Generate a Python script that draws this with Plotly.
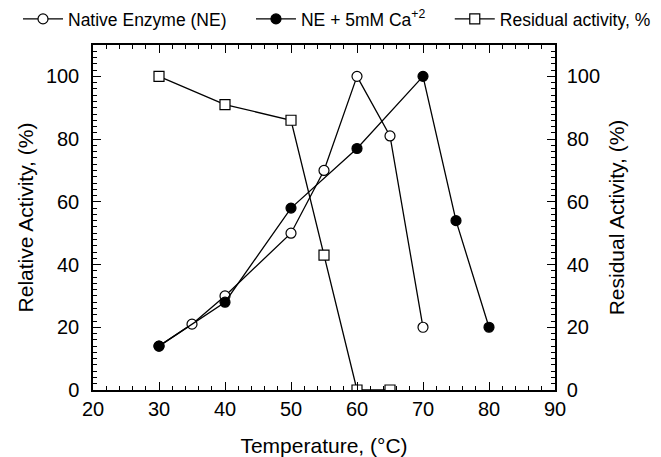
import plotly.graph_objects as go

# Data
ne_temp = [30, 35, 40, 50, 55, 60, 65, 70]
ne_act = [14, 21, 30, 50, 70, 100, 81, 20]
ca_temp = [30, 40, 50, 60, 70, 75, 80]
ca_act = [14, 28, 58, 77, 100, 54, 20]
res_temp = [30, 40, 50, 55, 60, 65]
res_act = [100, 91, 86, 43, 0, 0]
series_names = ["Native Enzyme (NE)", "NE + 5mM Ca<sup>+2</sup>", "Residual activity, %"]

FONT = "Liberation Sans, Arial, Helvetica, sans-serif"
OFF = 8  # default page body margin
PLOT_W = 462
EXTRA = 750  # extra blank width off-screen on the right (lets the legend stay on one row)
W, H = 661 - OFF + EXTRA, 457 - OFF
L, T, B = 93 - OFF, 45 - OFF, 67
R = W - L - PLOT_W
NB = "\u00a0"

fig = go.Figure()
fig.add_trace(go.Scatter(
    x=ne_temp, y=ne_act, mode="lines+markers", name=series_names[0] + NB * 4,
    line=dict(color="black", width=1.3),
    marker=dict(symbol="circle", size=10, color="white", line=dict(color="black", width=1.2))))
fig.add_trace(go.Scatter(
    x=ca_temp, y=ca_act, mode="lines+markers", name=series_names[1] + NB * 4,
    line=dict(color="black", width=1.3),
    marker=dict(symbol="circle", size=10, color="black", line=dict(color="black", width=1.2))))
fig.add_trace(go.Scatter(
    x=res_temp, y=res_act, mode="lines+markers", name=series_names[2],
    line=dict(color="black", width=1.3),
    marker=dict(symbol="square", size=10, color="white", line=dict(color="black", width=1.2)),
    yaxis="y2"))

minor_x = dict(tickmode="linear", tick0=20, dtick=2, ticklen=4, ticks="inside",
               tickcolor="black", tickwidth=1, showgrid=False)
minor_y = dict(tickmode="linear", tick0=0, dtick=2, ticklen=4, ticks="inside",
               tickcolor="black", tickwidth=1, showgrid=False)

fig.update_layout(
    width=W, height=H,
    margin=dict(l=L, r=R, t=T, b=B, pad=0, autoexpand=False),
    paper_bgcolor="white", plot_bgcolor="white",
    font=dict(family=FONT, size=20, color="black"),
    showlegend=True,
    legend=dict(x=(10 - L) / PLOT_W, xanchor="left", xref="paper",
                y=1 - (19 - OFF) / H, yanchor="middle", yref="container",
                orientation="h", itemwidth=40, borderwidth=0,
                bgcolor="rgba(0,0,0,0)",
                font=dict(family=FONT, size=17.5, color="black")),
    xaxis=dict(range=[20, 90], tickmode="linear", dtick=10, tick0=20, ticks="inside",
               ticklen=8, tickwidth=1.2, tickcolor="black", showline=True,
               linecolor="black", linewidth=1.5, mirror="ticks", showgrid=False,
               zeroline=False, automargin=False, minor=minor_x,
               title=dict(text="Temperature, (°C)", standoff=20, font=dict(size=21))),
    yaxis=dict(range=[0, 110], tickmode="linear", dtick=20, tick0=0, ticks="inside",
               ticklen=8, tickwidth=1.2, tickcolor="black", showline=True,
               linecolor="black", linewidth=1.5, showgrid=False, zeroline=False,
               automargin=False, ticklabelstandoff=8, minor=minor_y,
               title=dict(text="Relative Activity, (%)", standoff=7, font=dict(size=21))),
    yaxis2=dict(range=[0, 110], overlaying="y", side="right", tickmode="linear", dtick=20,
                tick0=0, ticks="inside", ticklen=8, tickwidth=1.2, tickcolor="black",
                showline=True, linecolor="black", linewidth=1.5, showgrid=False,
                zeroline=False, automargin=False, ticklabelstandoff=6, minor=minor_y,
                title=dict(text="Residual Activity, (%)", standoff=10, font=dict(size=21))),
)

fig.write_html("out.html")
